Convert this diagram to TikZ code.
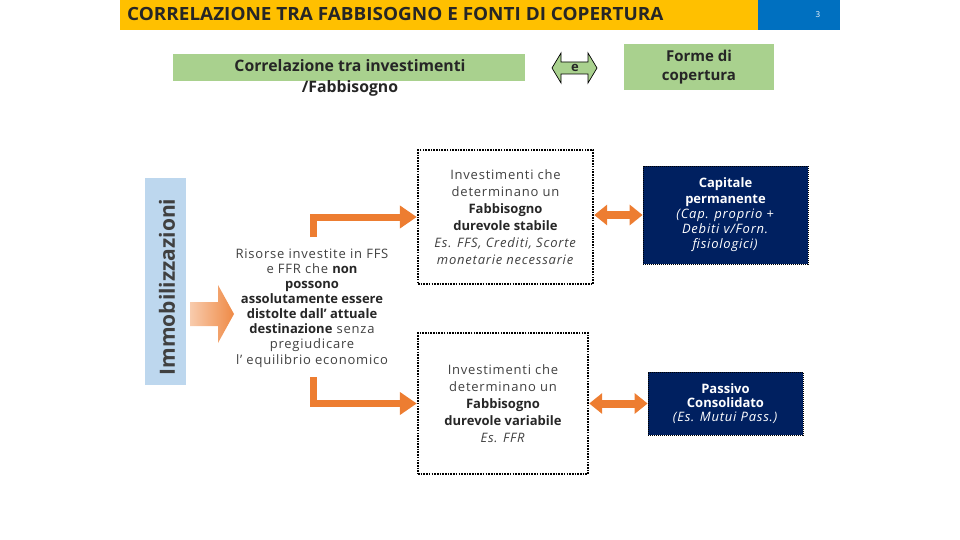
\documentclass[tikz,border=0pt]{standalone}
\usepackage{fontspec}
\setmainfont{Open Sans}[LetterSpace=6, BoldFeatures={LetterSpace=0}]
\usetikzlibrary{arrows.meta,calc}
\definecolor{ttlyellow}{RGB}{255,192,0}
\definecolor{ttlblue}{RGB}{0,112,192}
\definecolor{lgreen}{RGB}{169,209,142}
\definecolor{lblue}{RGB}{189,215,238}
\definecolor{navyc}{RGB}{0,32,96}
\definecolor{orng}{RGB}{237,125,49}
\definecolor{txtdark}{RGB}{38,38,38}
\definecolor{txtgray}{RGB}{64,64,64}
\begin{document}
\begin{tikzpicture}[x=1pt,y=-1pt,
  dotbox/.style={draw=black, line width=2.4pt, dash pattern=on 1.6pt off 1.1pt, inner sep=0pt, align=center, text=txtgray, font=\fontsize{13}{17}\selectfont},
  navybox/.style={fill=navyc, draw=black, line width=0.8pt, dash pattern=on 1pt off 1pt, inner sep=0pt, text=white, align=center},
  greenbox/.style={fill=lgreen, inner sep=0pt},
  elbow/.style={draw=orng, line width=7pt, -{Triangle[length=17pt,width=22pt]}},
  dbl/.style={draw=orng, line width=8pt, {Triangle[length=13pt,width=20pt]}-{Triangle[length=13pt,width=20pt]}},
  btxt/.style={text=txtdark, font=\bfseries}
]
\useasboundingbox (0,0) rectangle (960,540);

% title bar
\node[fill=ttlyellow, minimum width=638, minimum height=30, inner sep=0, anchor=north west] (tbar) at (120,0) {};
\node[fill=ttlblue, minimum width=82, minimum height=30, inner sep=0, anchor=north west] (nbar) at (758,0) {};
\node[anchor=west, text=txtdark, font=\bfseries\fontsize{18.2}{18}\selectfont, inner sep=0] (title) at (127,14) {\scalebox{1.04}[1]{CORRELAZIONE TRA FABBISOGNO E FONTI DI COPERTURA}};
\node[text=white, font=\fontsize{8}{8}\selectfont, inner sep=0] (pnum) at (818,15) {3};

% header row
\node[greenbox, minimum width=352, minimum height=27] (gbar) at (349,67.5) {};
\node[btxt, align=center, font=\bfseries\fontsize{15.8}{21}\selectfont] (gtext) at (350,77.5) {Correlazione tra investimenti\\/Fabbisogno};
\draw[fill=lgreen, draw=black, line width=0.7pt] (552,68) -- (561,53) -- (561,62) -- (588,62) -- (588,53) -- (597,68) -- (588,83) -- (588,74) -- (561,74) -- (561,83) -- cycle;
\node[btxt, font=\bfseries\fontsize{13}{13}\selectfont, inner sep=0] (etxt) at (575,68) {e};
\node[greenbox, minimum width=150, minimum height=46, align=center, btxt, font=\bfseries\fontsize{15}{19}\selectfont] (forme) at (699,67) {Forme di\\copertura};

% left column
\node[fill=lblue, minimum width=41, minimum height=207, inner sep=0] (imm) at (165.5,281.5) {};
\node[rotate=90, text=txtgray, font=\bfseries\fontsize{21}{21}\selectfont, inner sep=0] (immtxt) at (167,287) {Immobilizzazioni};
\shade[left color=orng!40, right color=orng!90] (190,302) -- (218,302) -- (218,285) -- (234,314) -- (218,343) -- (218,326) -- (190,326) -- cycle;
\node[align=center, text=txtgray, font=\fontsize{13}{15.1}\selectfont, inner sep=0] (ris) at (312,308) {Risorse investite in FFS\\e FFR che \textcolor{txtdark}{\bfseries non}\\\textcolor{txtdark}{\bfseries possono}\\\textcolor{txtdark}{\bfseries assolutamente essere}\\\textcolor{txtdark}{\bfseries distolte dall’ attuale}\\\textcolor{txtdark}{\bfseries destinazione} senza\\pregiudicare\\l’ equilibrio economico};

% dotted boxes
\node[dotbox, minimum width=175, minimum height=134] (b1) at (505.5,217) {Investimenti che\\determinano un\\\textcolor{txtdark}{\bfseries Fabbisogno}\\\textcolor{txtdark}{\bfseries durevole stabile}\\\textit{Es. FFS, Crediti, Scorte}\\\textit{monetarie necessarie}};
\node[dotbox, minimum width=170, minimum height=141] (b2) at (503,403.5) {Investimenti che\\determinano un\\\textcolor{txtdark}{\bfseries Fabbisogno}\\\textcolor{txtdark}{\bfseries durevole variabile}\\\textit{Es. FFR}};

% navy boxes
\node[navybox, minimum width=165, minimum height=98, font=\fontsize{13}{15.3}\selectfont] (n1) at (725.5,215) {\bfseries Capitale\\\bfseries permanente\\\textit{(Cap. proprio +}\\\textit{Debiti v/Forn.}\\\textit{fisiologici)}};
\node[navybox, minimum width=155, minimum height=63, font=\fontsize{13}{14}\selectfont] (n2) at (725.5,403.5) {\bfseries Passivo\\\bfseries Consolidato\\\textit{(Es. Mutui Pass.)}};

% connectors
\coordinate (s1) at (313,237);
\coordinate (s2) at (313,377);
\draw[elbow] (s1) |- (b1.west);
\draw[elbow] (s2) |- (b2.west);
\draw[dbl] (b1.east |- n1.west) -- (n1.west);
\draw[dbl] (b2.east |- n2.west) -- (n2.west);
\end{tikzpicture}
\end{document}
